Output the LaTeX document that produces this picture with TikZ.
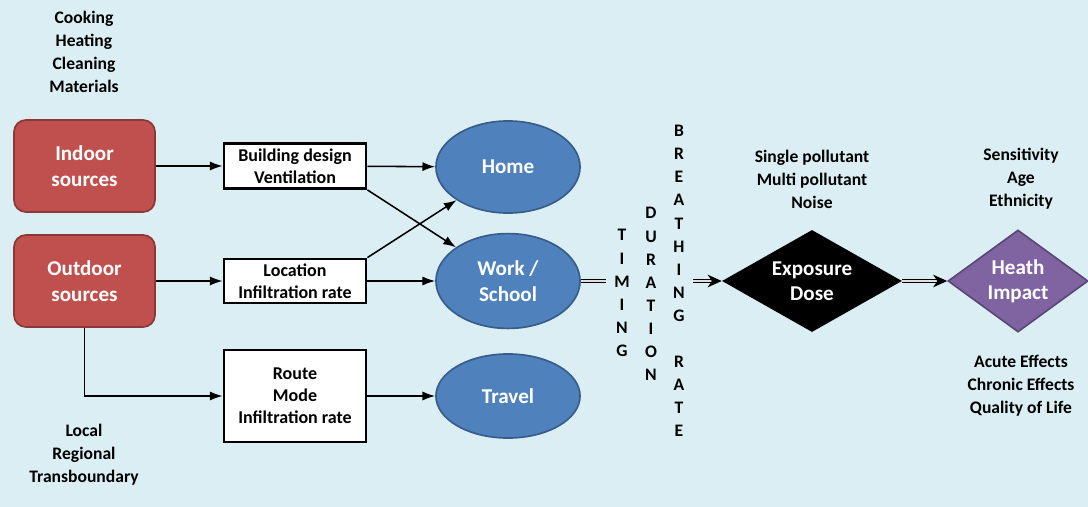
\documentclass[tikz,border=0pt]{standalone}
\usepackage{fontspec}
\setmainfont{Carlito}
\usepackage{xcolor}
\usepackage{tikz}
\usetikzlibrary{arrows.meta}
\usetikzlibrary{shapes.geometric}
\definecolor{fond}{HTML}{DAEEF3}
\definecolor{rouge}{HTML}{C0504D}
\definecolor{rougefonce}{HTML}{8C3836}
\definecolor{bleu}{HTML}{4F81BD}
\definecolor{bleufonce}{HTML}{385D8A}
\definecolor{mauve}{HTML}{8064A2}
\definecolor{mauvefonce}{HTML}{5C4776}

\begin{document}
\begin{tikzpicture}[x=0.025cm, y=-0.025cm,
    texte/.style={font=\bfseries\fontsize{12.5}{16.3}\selectfont, align=center},
    lettres/.style={font=\bfseries\fontsize{12.5}{16.4}\selectfont, align=center},
    source/.style={rectangle, rounded corners=0.3cm, fill=rouge, draw=rougefonce, line width=1.2pt,
        minimum width=3.525cm, minimum height=2.3cm, text=white, align=center,
        font=\bfseries\fontsize{15}{18.4}\selectfont},
    facteur/.style={rectangle, fill=white, draw=black, line width=2pt, minimum width=3.55cm,
        inner sep=1pt, align=center, font=\bfseries\fontsize{12.8}{15.6}\selectfont},
    lieu/.style={ellipse, fill=bleu, draw=bleufonce, line width=1.2pt, minimum width=3.6cm,
        minimum height=2.3cm, text=white, align=center, font=\bfseries\fontsize{15}{18.4}\selectfont},
    losange/.style={diamond, inner sep=0pt, minimum height=2.55cm, text=white, align=center,
        font=\bfseries\fontsize{15}{18}\selectfont},
    fleche/.style={-{Latex[length=9pt,width=6.5pt]}, line width=1.1pt},
    trait double/.style={double=gray!25, double distance=1.4pt, line width=0.7pt},
    fleche double/.style={trait double, -{Stealth[length=10pt,width=9pt,inset=3pt]}}
]
    % Fond
    \useasboundingbox (0,0) rectangle (1088,507);
    \fill[fond] (0,0) rectangle (1088,507);

    % Textes libres
    \node[texte] (activites) at (84,52) {Cooking\\Heating\\Cleaning\\Materials};
    \node[texte] (echelles) at (84,455) {Local\\Regional\\Transboundary};
    \node[texte] (polluants) at (812,179) {Single pollutant\\Multi pollutant\\Noise};
    \node[texte] (personnes) at (1021,179) {Sensitivity\\Age\\Ethnicity};
    \node[texte] (effets) at (1021,386) {Acute Effects\\Chronic Effects\\Quality of Life};

    % Sources
    \node[source] (indoor) at (84.5,166) {Indoor\\sources};
    \node[source] (outdoor) at (84.5,281) {Outdoor\\sources};

    % Facteurs
    \node[facteur, minimum height=1.125cm] (batiment) at (295,166) {Building design\\Ventilation};
    \node[facteur, minimum height=1.1cm] (location) at (295,281) {Location\\Infiltration rate};
    \node[facteur, minimum height=2.3cm] (route) at (295,396) {Route\\Mode\\Infiltration rate};

    % Lieux
    \node[lieu] (home) at (508,167) {Home};
    \node[lieu, minimum height=2.37cm] (work) at (508,281) {Work /\\School};
    \node[lieu, minimum height=2.1cm] (travel) at (508,396) {Travel};

    % Facteurs d'exposition (verticaux)
    \node[lettres] (timing) at (622,293) {T\\I\\M\\I\\N\\G};
    \node[lettres] (duration) at (651,294) {D\\U\\R\\A\\T\\I\\O\\N};
    \node[lettres] (breathing) at (679,281) {B\\R\\E\\A\\T\\H\\I\\N\\G\\~\\R\\A\\T\\E};
    \coordinate (t1) at (606,281);
    \coordinate (t2) at (693,281);

    % Losanges
    \node[losange, aspect=1.76, minimum width=4.5cm, fill=black] (exposure) at (812,281) {Exposure\\Dose};
    \node[losange, aspect=1.37, minimum width=3.5cm, fill=mauve, draw=mauvefonce, line width=1.2pt] (impact) at (1018,281) {Heath\\Impact};

    % Fleches
    \draw[fleche] (indoor) -- (batiment);
    \draw[fleche] (outdoor) -- (location);
    \draw[fleche] (outdoor.south) |- (route.west);
    \draw[fleche] (batiment) -- (home);
    \draw[fleche] (batiment.south east) -- (work);
    \draw[fleche] (location.north east) -- (home);
    \draw[fleche] (location) -- (work);
    \draw[fleche] (route) -- (travel);
    \draw[trait double] (work.east) -- (t1);
    \draw[fleche double] (t2) -- (exposure.west);
    \draw[fleche double] (exposure.east) -- (impact.west);
\end{tikzpicture}
\end{document}
